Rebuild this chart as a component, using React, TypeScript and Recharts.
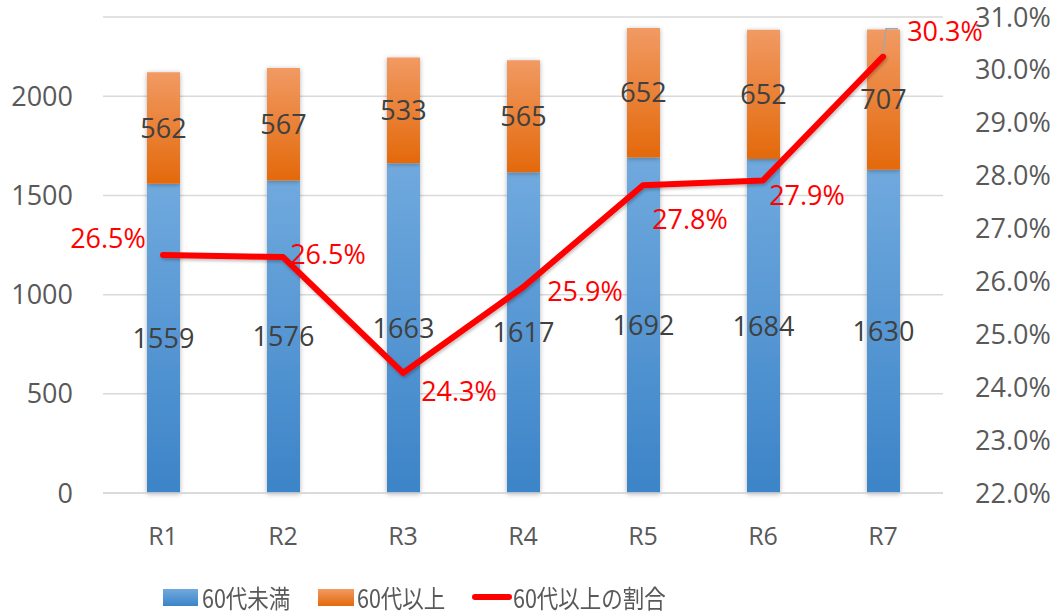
import React from 'react';
import { ComposedChart, Bar, Line, XAxis, YAxis, CartesianGrid, Legend, LabelList } from 'recharts';

const categories = ['R1', 'R2', 'R3', 'R4', 'R5', 'R6', 'R7'];
const under60 = [1559, 1576, 1663, 1617, 1692, 1684, 1630];
const over60 = [562, 567, 533, 565, 652, 652, 707];
const ratio = [0.265, 0.2646, 0.2427, 0.2589, 0.2782, 0.2791, 0.3025];
const leftTicks = [0, 500, 1000, 1500, 2000];
const rightTicks = [0.22, 0.23, 0.24, 0.25, 0.26, 0.27, 0.28, 0.29, 0.3, 0.31];
const seriesNames = ['60代未満', '60代以上', '60代以上の割合'];

// label offsets (style only): text centre relative to the line point
const LABEL_OFFSETS: [number, number][] = [
  [-55, -18],
  [45, -4],
  [56, 18],
  [62, 3],
  [47, 33],
  [44, 14],
  [62, -26],
];

const data = categories.map((c, i) => ({
  name: c,
  under60: under60[i],
  over60: over60[i],
  ratio: ratio[i],
}));

const FONT = '"Open Sans", "Noto Sans CJK JP", sans-serif';
const pct = (v: number) => (v * 100).toFixed(1) + '%';

const LineLabel = (props: any) => {
  const { x, y, index, value } = props;
  if (x == null || y == null) return null;
  const [dx, dy] = LABEL_OFFSETS[index] || [0, 0];
  return (
    <g>
      {index === 6 && (
        <polyline
          points={`${x},${y - 3} ${x + 3},${y - 28} ${x + 15},${y - 28}`}
          fill="none"
          stroke="#a6a6a6"
          strokeWidth={1.5}
        />
      )}
      <text
        x={x + dx}
        y={y + dy}
        textAnchor="middle"
        dominantBaseline="central"
        fill="#ff0000"
        fontSize={27}
        fontFamily={FONT}
      >
        {pct(value)}
      </text>
    </g>
  );
};

const renderLegend = () => {
  const textStyle: React.CSSProperties = {
    position: 'absolute',
    top: 0,
    height: 34,
    lineHeight: '34px',
    fontSize: 25,
    color: '#595959',
    fontFamily: '"Noto Sans CJK JP", sans-serif',
    whiteSpace: 'nowrap',
    transform: 'scaleX(0.86)',
    transformOrigin: 'left center',
  };
  return (
    <div style={{ position: 'relative', width: 1061, height: 34 }}>
      <div
        style={{
          position: 'absolute',
          left: 163,
          top: 9,
          width: 35,
          height: 17,
          background: 'linear-gradient(#70a9de, #3c84c8)',
        }}
      />
      <div style={{ ...textStyle, left: 202 }}>{seriesNames[0]}</div>
      <div
        style={{
          position: 'absolute',
          left: 318,
          top: 9,
          width: 36,
          height: 17,
          background: 'linear-gradient(#f19a63, #e3690b)',
        }}
      />
      <div style={{ ...textStyle, left: 357 }}>{seriesNames[1]}</div>
      <div
        style={{
          position: 'absolute',
          left: 472,
          top: 14,
          width: 40,
          height: 6,
          borderRadius: 3,
          background: '#ff0000',
        }}
      />
      <div style={{ ...textStyle, left: 513 }}>{seriesNames[2]}</div>
    </div>
  );
};

export default function App() {
  return (
    <div style={{ position: 'absolute', left: 0, top: 0, width: 1061, height: 614, background: '#fff' }}>
      <ComposedChart
        width={1061}
        height={614}
        data={data}
        margin={{ top: 17, right: 0, bottom: 0, left: 0 }}
        barCategoryGap={0}
      >
        <defs>
          <linearGradient id="gBlue" x1="0" y1="0" x2="0" y2="1">
            <stop offset="0%" stopColor="#70a9de" />
            <stop offset="100%" stopColor="#3c84c8" />
          </linearGradient>
          <linearGradient id="gOrange" x1="0" y1="0" x2="0" y2="1">
            <stop offset="0%" stopColor="#f19a63" />
            <stop offset="100%" stopColor="#e3690b" />
          </linearGradient>
          <filter id="shadow" x="-30%" y="-10%" width="160%" height="120%">
            <feDropShadow dx="0" dy="1" stdDeviation="2.5" floodColor="#000" floodOpacity="0.3" />
          </filter>
          <filter id="lshadow" x="-10%" y="-10%" width="120%" height="130%">
            <feDropShadow dx="1" dy="2" stdDeviation="1.5" floodColor="#000" floodOpacity="0.25" />
          </filter>
        </defs>
        <CartesianGrid
          yAxisId="left"
          vertical={false}
          stroke="#d9d9d9"
          strokeWidth={1.5}
        />
        <XAxis
          dataKey="name"
          height={87}
          axisLine={{ stroke: '#d9d9d9', strokeWidth: 1.5 }}
          tickLine={false}
          tickMargin={28}
          tick={{ fill: '#595959', fontSize: 25, fontFamily: FONT }}
        />
        <YAxis
          yAxisId="left"
          width={103}
          domain={[0, 2400]}
          ticks={leftTicks}
          axisLine={false}
          tickLine={false}
          tickMargin={24}
          tick={{ fill: '#595959', fontSize: 27, fontFamily: FONT }}
        />
        <YAxis
          yAxisId="right"
          orientation="right"
          width={118}
          domain={[0.22, 0.31]}
          ticks={rightTicks}
          tickFormatter={pct}
          axisLine={false}
          tickLine={false}
          tickMargin={26}
          tick={{ fill: '#595959', fontSize: 27, fontFamily: FONT, textAnchor: 'start' }}
        />
        <Legend verticalAlign="bottom" content={renderLegend} wrapperStyle={{ left: 0, bottom: 0, width: 1061, height: 34 }} />
        <Bar
          yAxisId="left"
          dataKey="under60"
          name={seriesNames[0]}
          stackId="a"
          fill="url(#gBlue)"
          barSize={33}
          filter="url(#shadow)"
          isAnimationActive={false}
        >
          <LabelList dataKey="under60" position="center" fill="#404040" fontSize={27} fontFamily={FONT} />
        </Bar>
        <Bar
          yAxisId="left"
          dataKey="over60"
          name={seriesNames[1]}
          stackId="a"
          fill="url(#gOrange)"
          barSize={33}
          filter="url(#shadow)"
          isAnimationActive={false}
        >
          <LabelList dataKey="over60" position="center" fill="#404040" fontSize={27} fontFamily={FONT} />
        </Bar>
        <Line
          yAxisId="right"
          dataKey="ratio"
          name={seriesNames[2]}
          stroke="#ff0000"
          strokeWidth={6}
          strokeLinecap="round"
          strokeLinejoin="round"
          dot={false}
          activeDot={false}
          filter="url(#lshadow)"
          isAnimationActive={false}
        >
          <LabelList dataKey="ratio" content={LineLabel} />
        </Line>
      </ComposedChart>
    </div>
  );
}
